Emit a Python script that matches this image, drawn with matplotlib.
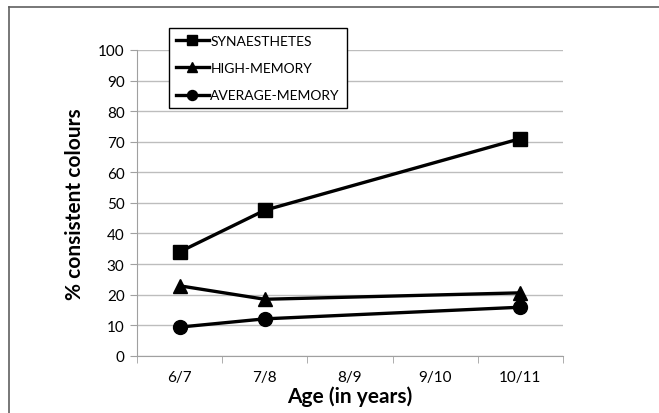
import matplotlib.pyplot as plt
from matplotlib.lines import Line2D

ages = ["6/7", "7/8", "8/9", "9/10", "10/11"]
# only three age groups were measured
measured = ["6/7", "7/8", "10/11"]
synaesthetes = [34.0, 47.6, 71.0]
high_memory = [22.9, 18.5, 20.6]
average_memory = [9.4, 12.1, 15.9]

plt.rcParams['font.family'] = ['Lato', 'DejaVu Sans']

fig = plt.figure(figsize=(6.59, 4.14), dpi=100)
ax = fig.add_axes([0.208, 0.138, 0.646, 0.739])

xpos = [ages.index(a) for a in measured]
ax.plot(xpos, synaesthetes, color="black", lw=2.4, marker="s", ms=9.5, label="SYNAESTHETES", zorder=3)
ax.plot(xpos, high_memory, color="black", lw=2.4, marker="^", ms=9.5, label="HIGH-MEMORY", zorder=3)
ax.plot(xpos, average_memory, color="black", lw=2.4, marker="o", ms=10, label="AVERAGE-MEMORY", zorder=3)

ax.set_xlim(-0.5, len(ages) - 0.5)
ax.set_ylim(0, 100)
ax.set_yticks(range(0, 101, 10))
ax.set_xticks(range(len(ages)))
ax.set_xticklabels(ages)
ax.set_xticks([i - 0.5 for i in range(len(ages) + 1)], minor=True)
ax.tick_params(axis="x", which="major", length=0, labelsize=11, pad=10)
ax.tick_params(axis="x", which="minor", length=5, color="#a0a0a0", direction="out")
ax.tick_params(axis="y", length=5, color="#a0a0a0", labelsize=11, pad=4)

ax.grid(axis="y", color="#bdbdbd", lw=1)
ax.set_axisbelow(True)
for s in ["top", "right"]:
    ax.spines[s].set_visible(False)
for s in ["left", "bottom"]:
    ax.spines[s].set_color("#a0a0a0")

ax.set_xlabel("Age (in years)", fontsize=15, fontweight="bold", labelpad=1)
ax.set_ylabel("% consistent colours", fontsize=15, fontweight="bold", labelpad=9)

leg = ax.legend(loc="upper left", bbox_to_anchor=(0.256, 0.930), bbox_transform=fig.transFigure,
                frameon=True, fancybox=False, fontsize=10, handlelength=2.4, handletextpad=0.1,
                labelspacing=1.1, borderpad=0.5, borderaxespad=0, markerscale=0.72)
leg.get_frame().set_edgecolor("black")
leg.get_frame().set_linewidth(1)
leg.get_frame().set_alpha(1)

# partial outer frame (top and left edges visible in the original crop)
fig.add_artist(Line2D([0.013, 1.0], [0.981, 0.981], transform=fig.transFigure, color="#606060", lw=1.2))
fig.add_artist(Line2D([0.013, 0.013], [0.0, 0.981], transform=fig.transFigure, color="#606060", lw=1.2))

plt.savefig("out.png", dpi=100)
